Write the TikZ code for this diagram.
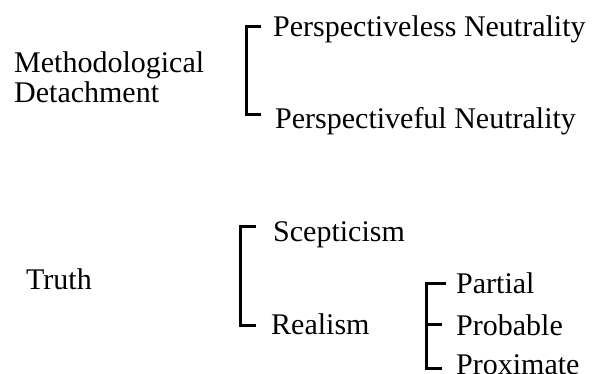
\documentclass[tikz,border=0pt]{standalone}
\usepackage{fontspec}
\setmainfont{Liberation Serif}
\begin{document}
\begin{tikzpicture}[x=1pt,y=-1pt,
  lbl/.style={anchor=base west,inner sep=0pt,font=\fontsize{30}{30}\selectfont},
  brk/.style={line width=3pt,line cap=butt,line join=miter}]
\useasboundingbox (0,0) rectangle (597,374);
% labels
\node[lbl] (md1) at (14,73) {Methodological};
\node[lbl] (md2) at (14,103) {Detachment};
\node[lbl] (pl) at (273,37) {Perspectiveless Neutrality};
\node[lbl] (pf) at (275,129) {Perspectiveful Neutrality};
\node[lbl] (tr) at (26,289) {Truth};
\node[lbl] (sc) at (273,242) {Scepticism};
\node[lbl] (re) at (271,334) {Realism};
\node[lbl] (pa) at (456,293) {Partial};
\node[lbl] (pr) at (456,335) {Probable};
\node[lbl] (px) at (456,374) {Proximate};
% bracket 1
\coordinate (b1a) at (261,27);
\coordinate (b1b) at (246,27);
\coordinate (b1c) at (246,115);
\coordinate (b1d) at (261,115);
\draw[brk] (b1a) -- (b1b) -- (b1c) -- (b1d);
% bracket 2
\coordinate (b2a) at (256,227);
\coordinate (b2b) at (240,227);
\coordinate (b2c) at (240,325);
\coordinate (b2d) at (256,325);
\draw[brk] (b2a) -- (b2b) -- (b2c) -- (b2d);
% bracket 3
\coordinate (b3a) at (446,283);
\coordinate (b3b) at (426,283);
\coordinate (b3c) at (426,368);
\coordinate (b3d) at (442,368);
\coordinate (b3m) at (426,324);
\coordinate (b3n) at (442,324);
\draw[brk] (b3a) -- (b3b) -- (b3c) -- (b3d);
\draw[brk] (b3m) -- (b3n);
\end{tikzpicture}
\end{document}
